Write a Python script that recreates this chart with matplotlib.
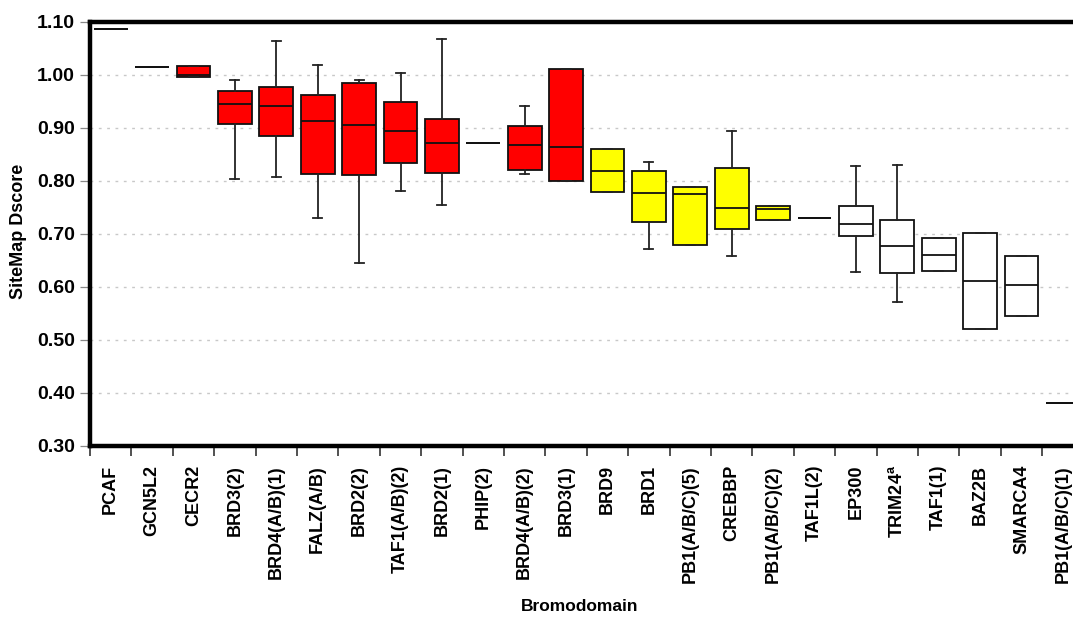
#!/usr/bin/env python3
# -*- coding: utf-8 -*-

import numpy as np
import matplotlib
matplotlib.use("Agg")
import matplotlib.pyplot as plt

# bromodomain families, left to right
LABELS = ["PCAF", "GCN5L2", "CECR2", "BRD3(2)", "BRD4(A/B)(1)", "FALZ(A/B)",
          "BRD2(2)", "TAF1(A/B)(2)", "BRD2(1)", "PHIP(2)", "BRD4(A/B)(2)",
          "BRD3(1)", "BRD9", "BRD1", "PB1(A/B/C)(5)", "CREBBP",
          "PB1(A/B/C)(2)", "TAF1L(2)", "EP300", r"TRIM24$^{\mathregular{a}}$",
          "TAF1(1)", "BAZ2B", "SMARCA4", "PB1(A/B/C)(1)"]

# box statistics
WHISHI = [1.086, 1.014, 1.016, 0.989, 1.064, 1.017, 0.990, 1.003, 1.067, 0.871,
          0.940, 1.011, 0.860, 0.835, 0.787, 0.893, 0.752, 0.730, 0.827, 0.829,
          0.691, 0.701, 0.658, 0.380]
Q3 = [1.086, 1.014, 1.016, 0.968, 0.977, 0.962, 0.984, 0.948, 0.916, 0.871,
      0.902, 1.011, 0.860, 0.818, 0.787, 0.823, 0.752, 0.730, 0.752, 0.726,
      0.691, 0.701, 0.658, 0.380]
MED = [1.086, 1.014, 1.000, 0.945, 0.940, 0.912, 0.904, 0.893, 0.870, 0.871,
       0.867, 0.863, 0.818, 0.777, 0.774, 0.748, 0.747, 0.730, 0.717, 0.676,
       0.660, 0.610, 0.602, 0.380]
Q1 = [1.086, 1.014, 0.995, 0.906, 0.884, 0.813, 0.810, 0.833, 0.815, 0.871,
      0.819, 0.799, 0.778, 0.722, 0.679, 0.709, 0.726, 0.730, 0.696, 0.626,
      0.629, 0.520, 0.545, 0.380]
WHISLO = [1.086, 1.014, 0.995, 0.802, 0.807, 0.730, 0.645, 0.781, 0.753, 0.871,
          0.813, 0.799, 0.778, 0.671, 0.679, 0.658, 0.726, 0.730, 0.628, 0.571,
          0.629, 0.520, 0.545, 0.380]

GROUP = ["red"] * 12 + ["yellow"] * 6 + ["white"] * 6
COLORS = {"red": "#ff0000", "yellow": "#ffff00", "white": "#ffffff"}

YTICKS = [0.30, 0.40, 0.50, 0.60, 0.70, 0.80, 0.90, 1.00, 1.10]

plt.rcParams["font.family"] = ["Liberation Sans", "DejaVu Sans"]
plt.rcParams["font.weight"] = "bold"


def main():
    fig = plt.figure(figsize=(10.73, 6.25), dpi=100)
    # axes run past the right edge, the original is cropped there
    ax = fig.add_axes([0.0839, 0.2872, 0.926, 0.6784])

    stats = []
    for i in range(len(LABELS)):
        stats.append({"whishi": WHISHI[i], "q3": Q3[i], "med": MED[i],
                      "q1": Q1[i], "whislo": WHISLO[i], "label": LABELS[i]})
    pos = np.arange(len(LABELS))

    bp = ax.bxp(stats, positions=pos, widths=0.82, patch_artist=True,
                showfliers=False, capwidths=0.22,
                boxprops=dict(edgecolor="#111111", linewidth=1.3),
                medianprops=dict(color="#111111", linewidth=1.3),
                whiskerprops=dict(color="#222222", linewidth=1.3),
                capprops=dict(color="#222222", linewidth=1.3))
    for patch, g in zip(bp["boxes"], GROUP):
        patch.set_facecolor(COLORS[g])

    ax.set_xlim(-0.5, len(LABELS) - 0.5)
    ax.set_ylim(0.30, 1.10)

    # ticks on category borders, labels on centers
    ax.set_xticks(np.arange(len(LABELS) + 1) - 0.5)
    ax.set_xticklabels([])
    ax.set_xticks(pos, minor=True)
    ax.set_xticklabels(LABELS, minor=True, rotation=90, va="top", size=13)
    ax.tick_params(axis="x", which="major", direction="out", length=7,
                   width=1.2, color="#333333")
    ax.tick_params(axis="x", which="minor", length=0, pad=14)

    ax.set_yticks(YTICKS)
    ax.set_yticklabels([f"{v:.2f}" for v in YTICKS], size=14)
    ax.tick_params(axis="y", direction="out", length=7, width=0.9,
                   color="#888888", pad=4)

    ax.set_axisbelow(True)
    ax.yaxis.grid(True, linestyle=(0, (2, 4)), color="#c8c8c8", linewidth=1.0)

    for s in ["left", "top", "bottom"]:
        ax.spines[s].set_linewidth(3.2)
        ax.spines[s].set_color("black")
    ax.spines["right"].set_visible(False)

    fig.text(0.0177, 0.63, "SiteMap Dscore", rotation=90, ha="center",
             va="center", size=13)
    fig.text(0.5405, 0.029, "Bromodomain", ha="center", va="center", size=12.5)

    plt.savefig("out.png", dpi=100)
    plt.close()


if __name__ == "__main__":
    main()
